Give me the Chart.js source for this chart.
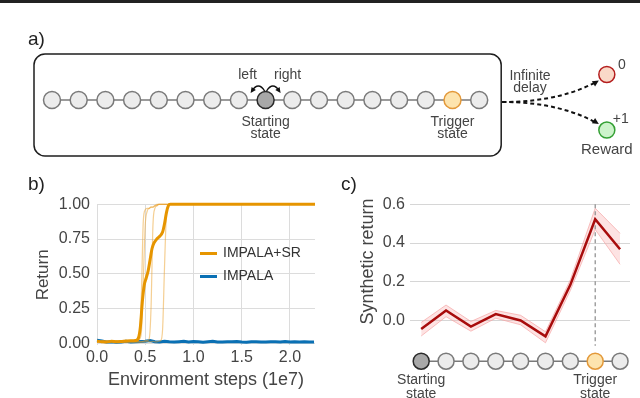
<!DOCTYPE html>
<html>
<head>
<meta charset="utf-8">
<script src="https://cdn.jsdelivr.net/npm/chart.js@4.4.1/dist/chart.umd.min.js"></script>
<style>
  html, body { margin: 0; padding: 0; background: #fff; }
  #fig { position: relative; width: 640px; height: 398px; overflow: hidden; background: #fff; }
  #topRule { position: absolute; left: 0; top: 0; width: 640px; height: 3px; background: #222; }
  canvas { position: absolute; }
  #cA { left: 0; top: 0; }
  #cB { left: 0; top: 170px; }
  #cC { left: 330px; top: 170px; }
</style>
</head>
<body>
<div id="fig">
  <div id="topRule"></div>
  <canvas id="cA" width="640" height="170"></canvas>
  <canvas id="cB" width="330" height="228"></canvas>
  <canvas id="cC" width="310" height="228"></canvas>
</div>
<script>
// ---------------- DATA ----------------
// Panel a: chain of states
const chainStates = [0,1,2,3,4,5,6,7,8,9,10,11,12,13,14,15,16];
const chainStartIndex = 8;
const chainTriggerIndex = 15;
const rewardLabels = ['0', '+1'];

// Panel b: returns
const bXTicks = [0, 0.5, 1.0, 1.5, 2.0];
const bYTicks = [0, 0.25, 0.5, 0.75, 1.0];
const srSteps = [0, 0.05, 0.1, 0.15, 0.2, 0.25, 0.3, 0.35, 0.4, 0.43, 0.45, 0.47, 0.49, 0.51, 0.53, 0.55, 0.57, 0.59, 0.62, 0.65, 0.68, 0.70, 0.72, 0.74, 0.76, 0.8, 1.0, 1.5, 2.0, 2.26];
const srMean  = [0.015, 0.012, 0.01, 0.014, 0.011, 0.013, 0.016, 0.018, 0.02, 0.04, 0.12, 0.3, 0.42, 0.47, 0.52, 0.6, 0.68, 0.72, 0.75, 0.77, 0.8, 0.86, 0.94, 0.99, 1.0, 1.0, 1.0, 1.0, 1.0, 1.0];
const seedSteps = [0, 0.1, 0.2, 0.3, 0.38, 0.42, 0.44, 0.46, 0.48, 0.5, 0.52, 0.54, 0.56, 0.58, 0.6, 0.62, 0.64, 0.66, 0.68, 0.7, 0.72, 0.74, 0.76, 0.8, 1.0, 1.5, 2.0, 2.26];
const srSeed1 = [0.01,0.02,0.01,0.015,0.02,0.02,0.05,0.35,0.88,0.96,0.97,0.97,0.98,0.98,0.99,0.99,1,1,1,1,1,1,1,1,1,1,1,1];
const srSeed2 = [0.02,0.01,0.015,0.01,0.02,0.02,0.03,0.08,0.45,0.85,0.95,0.97,0.98,0.98,0.99,1,1,1,1,1,1,1,1,1,1,1,1,1];
const srSeed3 = [0.01,0.01,0.02,0.01,0.01,0.01,0.01,0.01,0.015,0.02,0.02,0.03,0.25,0.85,0.97,0.99,1,1,1,1,1,1,1,1,1,1,1,1];
const srSeed4 = [0.01,0.015,0.01,0.01,0.01,0.01,0.01,0.01,0.01,0.01,0.015,0.01,0.01,0.015,0.01,0.01,0.015,0.02,0.1,0.55,0.93,0.99,1,1,1,1,1,1];
const impalaSteps = [0,0.05,0.1,0.15,0.2,0.25,0.3,0.35,0.4,0.45,0.5,0.55,0.6,0.65,0.7,0.75,0.8,0.85,0.9,0.95,1.0,1.05,1.1,1.15,1.2,1.25,1.3,1.35,1.4,1.45,1.5,1.55,1.6,1.65,1.7,1.75,1.8,1.85,1.9,1.95,2.0,2.05,2.1,2.15,2.2,2.25];
const impalaReturn = [0.022,0.016,0.01,0.012,0.008,0.01,0.014,0.009,0.011,0.013,0.015,0.02,0.012,0.01,0.014,0.011,0.009,0.012,0.015,0.01,0.013,0.011,0.008,0.012,0.014,0.01,0.009,0.012,0.011,0.013,0.01,0.008,0.011,0.012,0.01,0.009,0.012,0.011,0.01,0.013,0.009,0.011,0.01,0.012,0.009,0.01];

// Panel c: synthetic return per state
const cStates = [0,1,2,3,4,5,6,7,8];
const cStartIndex = 0;
const cTriggerIndex = 7;
const cYTicks = [0, 0.2, 0.4, 0.6];
const synthMean  = [-0.044, 0.052, -0.031, 0.033, 0.0, -0.082, 0.184, 0.523, 0.368];
const synthUpper = [-0.01, 0.08, -0.005, 0.052, 0.027, -0.058, 0.21, 0.58, 0.45];
const synthLower = [-0.08, 0.02, -0.055, 0.012, -0.022, -0.115, 0.155, 0.47, 0.29];
const triggerMarkerRange = [0.6, -0.13];

// ---------------- STYLE ----------------
const FONT = "'Liberation Sans', Arial, Helvetica, sans-serif";
Chart.defaults.font.family = FONT;
Chart.defaults.animation = false;
Chart.defaults.events = [];
Chart.defaults.plugins.legend.display = false;
Chart.defaults.plugins.tooltip.enabled = false;

const ORANGE = '#E69500';
const ORANGE_T = 'rgba(236,160,40,0.5)';
const BLUE = '#0A70B4';
const TXT = '#444';
const NODE_FILL = '#ececec', NODE_EDGE = '#7a7a7a';
const START_FILL = '#a8a8a8', START_EDGE = '#2a2a2a';
const TRIG_FILL = '#fde4ae', TRIG_EDGE = '#e3993a';

function nodeFill(i, s, t) { return i === s ? START_FILL : (i === t ? TRIG_FILL : NODE_FILL); }
function nodeEdge(i, s, t) { return i === s ? START_EDGE : (i === t ? TRIG_EDGE : NODE_EDGE); }

function arrowHead(ctx, fromX, fromY, toX, toY, size) {
  const a = Math.atan2(toY - fromY, toX - fromX);
  ctx.save();
  ctx.setLineDash([]);
  ctx.beginPath();
  ctx.moveTo(toX, toY);
  ctx.lineTo(toX - size * Math.cos(a - 0.45), toY - size * Math.sin(a - 0.45));
  ctx.lineTo(toX - size * Math.cos(a + 0.45), toY - size * Math.sin(a + 0.45));
  ctx.closePath();
  ctx.fill();
  ctx.restore();
}
function text(ctx, s, x, y, size, align, color, rot) {
  ctx.save();
  ctx.font = size + 'px ' + FONT;
  ctx.fillStyle = color || TXT;
  ctx.textAlign = align || 'center';
  ctx.textBaseline = 'middle';
  ctx.translate(x, y);
  if (rot) ctx.rotate(rot);
  ctx.fillText(s, 0, 0);
  ctx.restore();
}

// ---------------- PANEL A ----------------
const A_UNIT = 26.7, A_X0 = 52, A_ROW = 100, A_W = 640, A_H = 170;
const rewardNodePos = [{x: 20.78, y: 0.955}, {x: 20.78, y: -1.124}];
const rewardFill = ['#fad9c8', '#cdf3cb'];
const rewardEdge = ['#b41e1e', '#34a034'];

const panelAPlugin = {
  id: 'panelA',
  beforeDatasetsDraw(chart) {
    const {ctx, scales: {x, y}} = chart;
    const px = v => x.getPixelForValue(v), py = v => y.getPixelForValue(v);
    const first = px(chainStates[0]), last = px(chainStates[chainStates.length - 1]);
    const row = py(0);
    ctx.save();
    ctx.strokeStyle = '#1e1e1e';
    ctx.lineWidth = 1.5;
    ctx.beginPath();
    ctx.roundRect(first - 18, row - 46, (last + 22) - (first - 18), 102, 11);
    ctx.stroke();
    ctx.restore();
  },
  afterDatasetsDraw(chart) {
    const {ctx, scales: {x, y}} = chart;
    const px = v => x.getPixelForValue(v), py = v => y.getPixelForValue(v);
    const row = py(0);
    const sx = px(chainStartIndex), tx = px(chainTriggerIndex);
    const last = px(chainStates[chainStates.length - 1]);
    text(ctx, 'a)', 28, 40, 19, 'left', '#222');
    ctx.save();
    ctx.strokeStyle = '#111'; ctx.fillStyle = '#111'; ctx.lineWidth = 1.4;
    ctx.beginPath(); ctx.moveTo(sx - 1, row - 9); ctx.quadraticCurveTo(sx - 7, row - 19, sx - 14, row - 9); ctx.stroke();
    arrowHead(ctx, sx - 10, row - 14, sx - 15, row - 7, 6);
    ctx.beginPath(); ctx.moveTo(sx + 1, row - 9); ctx.quadraticCurveTo(sx + 7, row - 19, sx + 14, row - 9); ctx.stroke();
    arrowHead(ctx, sx + 10, row - 14, sx + 15, row - 7, 6);
    ctx.restore();
    text(ctx, 'left', sx - 18, row - 25, 14);
    text(ctx, 'right', sx + 22, row - 25, 14);
    text(ctx, 'Starting', sx, row + 22, 14);
    text(ctx, 'state', sx, row + 34, 14);
    text(ctx, 'Trigger', tx, row + 22, 14);
    text(ctx, 'state', tx, row + 34, 14);
    const r0x = px(rewardNodePos[0].x), r0y = py(rewardNodePos[0].y);
    const r1x = px(rewardNodePos[1].x), r1y = py(rewardNodePos[1].y);
    const bx = last + 23, by = row + 2;
    ctx.save();
    ctx.strokeStyle = '#111'; ctx.fillStyle = '#111'; ctx.lineWidth = 2;
    ctx.setLineDash([4, 3]);
    ctx.beginPath(); ctx.moveTo(bx, by); ctx.bezierCurveTo(bx + 45, by, r0x - 30, r0y + 18, r0x - 10, r0y + 7); ctx.stroke();
    arrowHead(ctx, r0x - 16, r0y + 11, r0x - 8, r0y + 6, 7);
    ctx.beginPath(); ctx.moveTo(bx, by); ctx.bezierCurveTo(bx + 45, by, r1x - 30, r1y - 18, r1x - 10, r1y - 7); ctx.stroke();
    arrowHead(ctx, r1x - 16, r1y - 11, r1x - 8, r1y - 6, 7);
    ctx.restore();
    text(ctx, 'Infinite', 530, 76, 14);
    text(ctx, 'delay', 530, 88, 14);
    text(ctx, rewardLabels[0], r0x + 15, r0y - 9, 14);
    text(ctx, rewardLabels[1], r1x + 14, r1y - 11, 14);
    text(ctx, 'Reward', r1x, r1y + 20, 15);
  }
};

new Chart(document.getElementById('cA'), {
  type: 'scatter',
  data: {
    datasets: [
      {
        data: chainStates.map(i => ({x: i, y: 0})),
        showLine: true,
        borderColor: NODE_EDGE, borderWidth: 1.5,
        pointRadius: 8.5, pointBorderWidth: 1.5,
        pointBackgroundColor: chainStates.map(i => nodeFill(i, chainStartIndex, chainTriggerIndex)),
        pointBorderColor: chainStates.map(i => nodeEdge(i, chainStartIndex, chainTriggerIndex)),
        clip: false
      },
      {
        data: rewardNodePos,
        showLine: false,
        pointRadius: 8, pointBorderWidth: 1.5,
        pointBackgroundColor: rewardFill,
        pointBorderColor: rewardEdge,
        clip: false
      }
    ]
  },
  options: {
    responsive: false,
    maintainAspectRatio: false,
    layout: {padding: 0, autoPadding: false},
    scales: {
      x: {type: 'linear', display: false, min: -A_X0 / A_UNIT, max: (A_W - A_X0) / A_UNIT},
      y: {type: 'linear', display: false, min: -(A_H - A_ROW) / A_UNIT, max: A_ROW / A_UNIT}
    }
  },
  plugins: [panelAPlugin]
});

// ---------------- PANEL B ----------------
const panelBPlugin = {
  id: 'panelB',
  afterDraw(chart) {
    const {ctx} = chart;
    text(ctx, 'b)', 28, 15, 19, 'left', '#222');
    const items = [
      {label: chart.data.datasets[0].label, color: chart.data.datasets[0].borderColor, y: 83.5},
      {label: chart.data.datasets[5].label, color: chart.data.datasets[5].borderColor, y: 106.5}
    ];
    items.forEach(it => {
      ctx.save();
      ctx.strokeStyle = it.color; ctx.lineWidth = 3;
      ctx.beginPath(); ctx.moveTo(200, it.y); ctx.lineTo(217, it.y); ctx.stroke();
      ctx.restore();
      text(ctx, it.label, 223, it.y, 14, 'left', '#333');
    });
  }
};
const xy = (xs, ys) => xs.map((v, i) => ({x: v, y: ys[i]}));
const seedDs = s => ({
  data: xy(seedSteps, s), showLine: true, borderColor: ORANGE_T, borderWidth: 1.2,
  pointRadius: 0, cubicInterpolationMode: 'monotone', clip: false
});
new Chart(document.getElementById('cB'), {
  type: 'scatter',
  data: {
    datasets: [
      {label: 'IMPALA+SR', data: xy(srSteps, srMean), showLine: true, borderColor: ORANGE, borderWidth: 3,
       pointRadius: 0, cubicInterpolationMode: 'monotone', clip: false},
      seedDs(srSeed1), seedDs(srSeed2), seedDs(srSeed3), seedDs(srSeed4),
      {label: 'IMPALA', data: xy(impalaSteps, impalaReturn), showLine: true, borderColor: BLUE, borderWidth: 3,
       pointRadius: 0, clip: false}
    ]
  },
  options: {
    responsive: false,
    maintainAspectRatio: false,
    layout: {padding: {left: 0, top: 34.3, right: 15, bottom: 0}, autoPadding: false},
    scales: {
      x: {
        type: 'linear', min: 0, max: 2.26,
        afterBuildTicks: s => { s.ticks = bXTicks.map(v => ({value: v})); },
        afterFit: s => { s.height = 52.6; },
        ticks: {callback: v => Number(v).toFixed(1), font: {size: 16}, color: TXT, padding: 3, maxRotation: 0, autoSkip: false},
        grid: {color: '#dcdcdc', lineWidth: 1, drawTicks: false},
        border: {display: false},
        title: {display: true, text: 'Environment steps (1e7)', font: {size: 18}, color: TXT, padding: {top: 0, bottom: 7.2}}
      },
      y: {
        type: 'linear', min: -0.015, max: 1.0,
        afterBuildTicks: s => { s.ticks = bYTicks.map(v => ({value: v})); },
        afterFit: s => { s.width = 97; },
        ticks: {callback: v => Number(v).toFixed(2), font: {size: 16}, color: TXT, padding: 7},
        grid: {color: '#dcdcdc', lineWidth: 1, drawTicks: false},
        border: {display: false},
        title: {display: true, text: 'Return', font: {size: 17}, color: TXT, padding: {top: 32.8, bottom: 0}}
      }
    }
  },
  plugins: [panelBPlugin]
});

// ---------------- PANEL C ----------------
const C_NODE_Y = -0.21;
const panelCPlugin = {
  id: 'panelC',
  afterDraw(chart) {
    const {ctx, scales: {x, y}} = chart;
    text(ctx, 'c)', 11, 15, 19, 'left', '#222');
    const yTitleCenter = (y.getPixelForValue(cYTicks[0]) + y.getPixelForValue(cYTicks[cYTicks.length - 1])) / 2 - 1;
    text(ctx, 'Synthetic return', 38, yTitleCenter, 18, 'center', TXT, -Math.PI / 2);
    const row = y.getPixelForValue(C_NODE_Y);
    const sx = x.getPixelForValue(cStartIndex), tx = x.getPixelForValue(cTriggerIndex);
    text(ctx, 'Starting', sx, row + 19, 14);
    text(ctx, 'state', sx, row + 33, 14);
    text(ctx, 'Trigger', tx, row + 19, 14);
    text(ctx, 'state', tx, row + 33, 14);
  }
};
new Chart(document.getElementById('cC'), {
  type: 'scatter',
  data: {
    datasets: [
      {data: xy(cStates, synthMean), showLine: true, borderColor: '#a80c0c', borderWidth: 2.5, pointRadius: 0, clip: false},
      {
        data: cStates.map(i => ({x: i, y: C_NODE_Y})), showLine: true,
        borderColor: NODE_EDGE, borderWidth: 1.5, pointRadius: 8, pointBorderWidth: 1.5,
        pointBackgroundColor: cStates.map(i => nodeFill(i, cStartIndex, cTriggerIndex)),
        pointBorderColor: cStates.map(i => nodeEdge(i, cStartIndex, cTriggerIndex)),
        clip: false
      },
      {data: triggerMarkerRange.map(v => ({x: cTriggerIndex, y: v})), showLine: true, borderColor: '#8a8a8a',
       borderWidth: 1.2, borderDash: [4, 3], pointRadius: 0, clip: false},
      {data: xy(cStates, synthUpper), showLine: true, borderColor: 'rgba(245,165,165,0.7)', borderWidth: 1,
       pointRadius: 0, fill: '+1', backgroundColor: 'rgba(250,175,175,0.35)', clip: false},
      {data: xy(cStates, synthLower), showLine: true, borderColor: 'rgba(245,165,165,0.7)', borderWidth: 1,
       pointRadius: 0, fill: false, clip: false}
    ]
  },
  options: {
    responsive: false,
    maintainAspectRatio: false,
    layout: {padding: {left: 0, top: 34.3, right: 10, bottom: 0}, autoPadding: false},
    scales: {
      x: {type: 'linear', display: false, min: -0.45, max: 8.4},
      y: {
        type: 'linear', min: -0.4, max: 0.6,
        afterBuildTicks: s => { s.ticks = cYTicks.map(v => ({value: v})); },
        afterFit: s => { s.width = 80; s.paddingTop = 0; s.paddingBottom = 0; },
        ticks: {callback: v => Number(v).toFixed(1), font: {size: 16}, color: TXT, padding: 5},
        grid: {color: '#d6d6d6', lineWidth: 1, drawTicks: false},
        border: {display: false},
        title: {display: false}
      }
    }
  },
  plugins: [panelCPlugin]
});
</script>
</body>
</html>
